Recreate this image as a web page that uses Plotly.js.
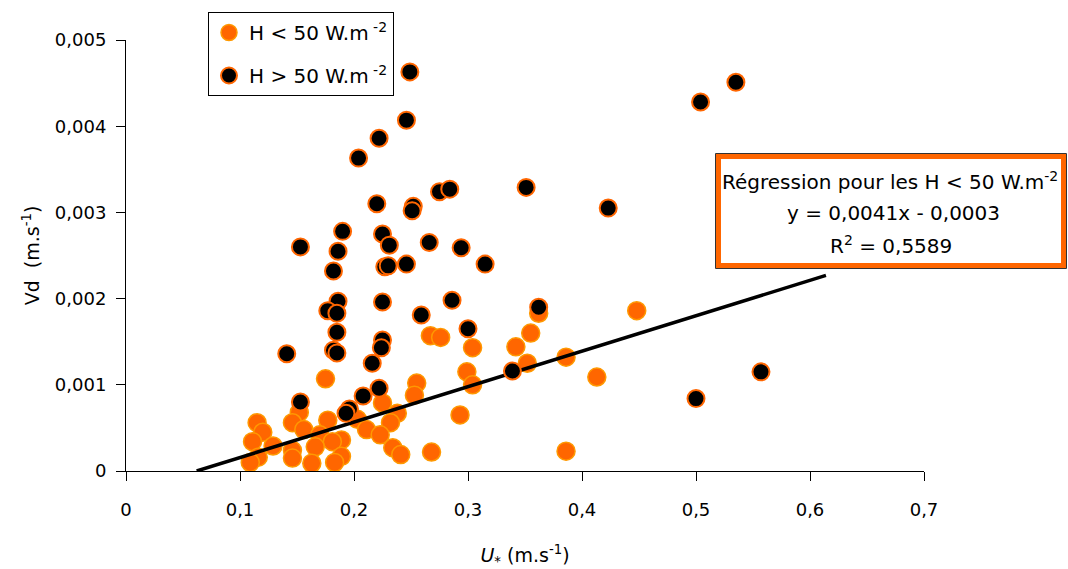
<!DOCTYPE html>
<html>
<head>
<meta charset="utf-8">
<script src="https://cdn.plot.ly/plotly-3.0.1.min.js"></script>
<style>html,body{margin:0;padding:0;background:#fff;}#chart{width:1068px;height:569px;}</style>
</head>
<body>
<div id="chart"></div>
<script>
// H < 50 W.m-2
const lowX = [0.448,0.362,0.355,0.342,0.352,0.386,0.413,0.386,0.304,0.299,0.304,0.267,0.276,0.175,0.255,0.253,0.225,0.238,0.293,0.232,0.152,0.146,0.156,0.177,0.170,0.203,0.211,0.223,0.189,0.181,0.166,0.146,0.146,0.189,0.183,0.163,0.234,0.241,0.268,0.115,0.120,0.111,0.129,0.116,0.109];
const lowY = [0.00186,0.00183,0.00160,0.00144,0.00125,0.00132,0.00109,0.00023,0.00143,0.00115,0.00100,0.00157,0.00155,0.00107,0.00102,0.00088,0.00079,0.00067,0.00065,0.00056,0.00068,0.00056,0.00048,0.00059,0.00042,0.00060,0.00048,0.00042,0.00036,0.00034,0.00028,0.00024,0.00015,0.00017,0.00010,0.00009,0.00027,0.00019,0.00022,0.00056,0.00045,0.00034,0.00029,0.00016,0.00010];
// H > 50 W.m-2
const highX = [0.249,0.246,0.222,0.204,0.504,0.535,0.423,0.351,0.315,0.362,0.339,0.557,0.500,0.286,0.300,0.259,0.294,0.266,0.246,0.227,0.230,0.225,0.231,0.252,0.251,0.275,0.284,0.220,0.190,0.186,0.182,0.153,0.186,0.177,0.185,0.185,0.182,0.185,0.225,0.225,0.224,0.216,0.222,0.208,0.196,0.193,0.153,0.141];
const highY = [0.00463,0.00407,0.00386,0.00363,0.00428,0.00451,0.00305,0.00329,0.00240,0.00190,0.00116,0.00115,0.00084,0.00198,0.00165,0.00181,0.00259,0.00265,0.00240,0.00237,0.00238,0.00275,0.00262,0.00307,0.00302,0.00324,0.00327,0.00310,0.00278,0.00255,0.00232,0.00260,0.00197,0.00186,0.00183,0.00161,0.00140,0.00137,0.00196,0.00152,0.00143,0.00125,0.00096,0.00087,0.00072,0.00067,0.00080,0.00136];
// regression line endpoints
const trendX = [0.062, 0.614];
const trendY = [0, 0.00227];
// tick labels
const xTickVals = [0,0.1,0.2,0.3,0.4,0.5,0.6,0.7];
const xTickText = ["0","0,1","0,2","0,3","0,4","0,5","0,6","0,7"];
const yTickVals = [0,0.001,0.002,0.003,0.004,0.005];
const yTickText = ["0","0,001","0,002","0,003","0,004","0,005"];

const FONT = "DejaVu Sans, Verdana, sans-serif";
const ORANGE = "#FF6600";

const traces = [
  {x: lowX, y: lowY, type: "scatter", mode: "markers", name: "H < 50 W.m<sup> -2</sup>",
   legendgroup: "a",
   marker: {size: 18, color: ORANGE, line: {color: "#FF9900", width: 1.5}}},
  {x: trendX, y: trendY, type: "scatter", mode: "lines", showlegend: false,
   line: {color: "#000", width: 3.5}},
  {x: highX, y: highY, type: "scatter", mode: "markers", name: "H > 50 W.m<sup> -2</sup>",
   legendgroup: "b",
   marker: {size: 17, color: "#000", line: {color: ORANGE, width: 2}}}
];

// pixel helpers for paper coords
const L = 126, R = 924, T = 40, B = 471;
const px = v => (v - L) / (R - L);
const py = v => (B - v) / (B - T);

const layout = {
  width: 1068, height: 569,
  margin: {l: L, r: 1068 - R, t: T, b: 569 - B},
  paper_bgcolor: "#fff", plot_bgcolor: "#fff",
  font: {family: FONT, size: 19, color: "#000"},
  showlegend: true,
  legend: {x: px(208), y: py(12), xanchor: "left", yanchor: "top",
    bordercolor: "#000", borderwidth: 1, bgcolor: "#fff",
    font: {family: FONT, size: 20, color: "#000"},
    traceorder: "grouped", tracegroupgap: 14, itemwidth: 30},
  xaxis: {range: [0, 0.7], tickvals: xTickVals, ticktext: xTickText,
    showgrid: false, zeroline: false, showline: true, linecolor: "#000", linewidth: 1,
    ticks: "outside", ticklen: 9, tickcolor: "#000", tickfont: {size: 18},
    ticklabelstandoff: 13,
    title: {text: "<i>U</i><sub>*</sub> (m.s<sup>-1</sup>)", font: {size: 19}, standoff: 30}},
  yaxis: {range: [0, 0.005], tickvals: yTickVals, ticktext: yTickText,
    showgrid: false, zeroline: false, showline: true, linecolor: "#000", linewidth: 1,
    ticks: "outside", ticklen: 9, tickcolor: "#000", tickfont: {size: 18},
    ticklabelstandoff: 6,
    title: {text: "Vd  (m.s<sup>-1</sup>)", font: {size: 19}, standoff: 10}},
  shapes: [
    {type: "rect", xref: "paper", yref: "paper", layer: "above",
     x0: px(718.5), x1: px(1063.5), y0: py(156.5), y1: py(265.5),
     fillcolor: "#fff", line: {color: ORANGE, width: 5}},
    {type: "rect", xref: "paper", yref: "paper", layer: "above",
     x0: px(715.5), x1: px(1066.5), y0: py(153.5), y1: py(268.5),
     fillcolor: "rgba(0,0,0,0)", line: {color: "#333", width: 1}}
  ],
  annotations: [
    {xref: "paper", yref: "paper", x: px(890), y: py(181), xanchor: "center", yanchor: "middle",
     showarrow: false, text: "Régression pour les H < 50 W.m<sup>-2</sup>", font: {size: 20}},
    {xref: "paper", yref: "paper", x: px(893), y: py(213), xanchor: "center", yanchor: "middle",
     showarrow: false, text: "y = 0,0041x - 0,0003", font: {size: 20}},
    {xref: "paper", yref: "paper", x: px(891), y: py(245), xanchor: "center", yanchor: "middle",
     showarrow: false, text: "R<sup>2</sup> = 0,5589", font: {size: 20}}
  ]
};

Plotly.newPlot("chart", traces, layout, {displayModeBar: false, staticPlot: true});
</script>
</body>
</html>
